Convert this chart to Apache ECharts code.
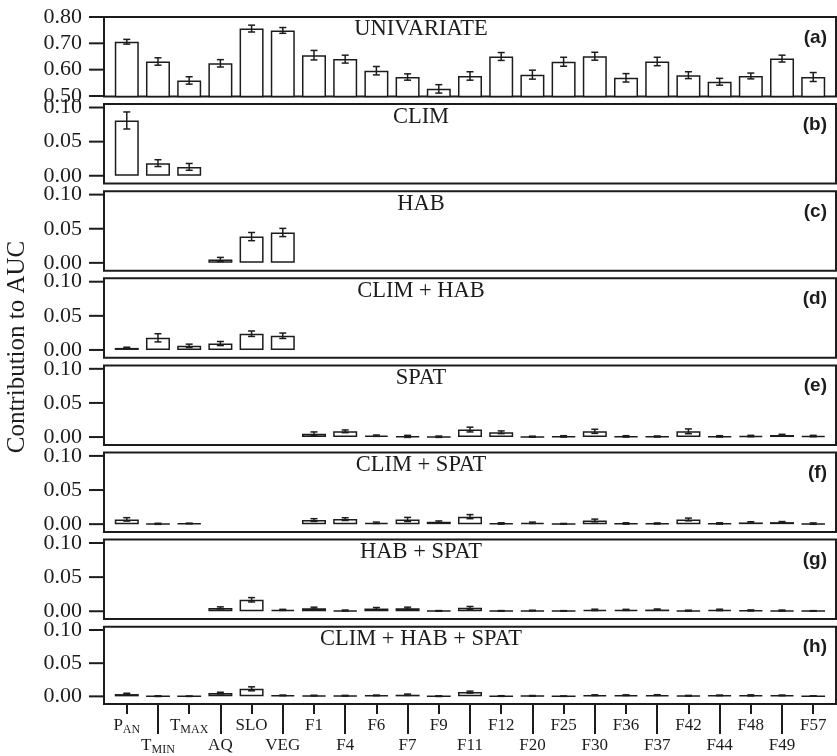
<!DOCTYPE html>
<html>
<head>
<meta charset="utf-8">
<script src="https://cdn.jsdelivr.net/npm/echarts@6/dist/echarts.min.js"></script>
<style>
  html, body { margin: 0; padding: 0; background: #ffffff; }
  #chart { width: 837px; height: 756px; }
</style>
</head>
<body>
<div id="chart"></div>
<script>
// Predictor names (underscore marks a subscript)
const categories = ['P_AN', 'T_MIN', 'T_MAX', 'AQ', 'SLO', 'VEG', 'F1', 'F4', 'F6', 'F7', 'F9',
  'F11', 'F12', 'F20', 'F25', 'F30', 'F36', 'F37', 'F42', 'F44', 'F48', 'F49', 'F57'];

const panelTitles = ['UNIVARIATE', 'CLIM', 'HAB', 'CLIM + HAB', 'SPAT', 'CLIM + SPAT', 'HAB + SPAT', 'CLIM + HAB + SPAT'];
const panelTags = ['(a)', '(b)', '(c)', '(d)', '(e)', '(f)', '(g)', '(h)'];

const univariateTicks = [0.5, 0.6, 0.7, 0.8];
const contributionTicks = [0, 0.05, 0.1];

// (a) univariate AUC
const univariate = [0.706, 0.631, 0.559, 0.624, 0.756, 0.749, 0.655, 0.640, 0.596, 0.572, 0.527,
  0.576, 0.650, 0.581, 0.630, 0.651, 0.569, 0.631, 0.579, 0.554, 0.576, 0.642, 0.572];
const univariateErr = [0.009, 0.014, 0.014, 0.014, 0.013, 0.011, 0.018, 0.015, 0.016, 0.012, 0.016,
  0.016, 0.015, 0.017, 0.017, 0.015, 0.016, 0.016, 0.013, 0.013, 0.011, 0.013, 0.017];

// (b) CLIM
const clim = [0.081, 0.0185, 0.013, null, null, null, null, null, null, null, null,
  null, null, null, null, null, null, null, null, null, null, null, null];
const climErr = [0.0125, 0.005, 0.005, null, null, null, null, null, null, null, null,
  null, null, null, null, null, null, null, null, null, null, null, null];

// (c) HAB
const hab = [null, null, null, 0.005, 0.0385, 0.0445, null, null, null, null, null,
  null, null, null, null, null, null, null, null, null, null, null, null];
const habErr = [null, null, null, 0.003, 0.006, 0.006, null, null, null, null, null,
  null, null, null, null, null, null, null, null, null, null, null, null];

// (d) CLIM + HAB
const climHab = [0.003, 0.0178, 0.006, 0.0094, 0.0238, 0.0208, null, null, null, null, null,
  null, null, null, null, null, null, null, null, null, null, null, null];
const climHabErr = [0.001, 0.006, 0.0025, 0.003, 0.004, 0.004, null, null, null, null, null,
  null, null, null, null, null, null, null, null, null, null, null, null];

// (e) SPAT
const spat = [null, null, null, null, null, null, 0.005, 0.0084, 0.002, 0.001, 0.0005,
  0.011, 0.007, 0.0005, 0.001, 0.0084, 0.001, 0.0008, 0.0084, 0.001, 0.0015, 0.003, 0.0015];
const spatErr = [null, null, null, null, null, null, 0.0025, 0.002, 0.001, 0.0015, 0.001,
  0.0035, 0.002, 0.0008, 0.001, 0.003, 0.001, 0.0008, 0.0035, 0.001, 0.001, 0.001, 0.001];

// (f) CLIM + SPAT
const climSpat = [0.007, 0.0005, 0.001, null, null, null, 0.006, 0.0074, 0.002, 0.0069, 0.0035,
  0.011, 0.001, 0.002, 0.0005, 0.0054, 0.001, 0.001, 0.0069, 0.001, 0.0025, 0.003, 0.0008];
const climSpatErr = [0.0025, 0.0008, 0.0005, null, null, null, 0.002, 0.002, 0.001, 0.003, 0.0012,
  0.003, 0.001, 0.001, 0.0005, 0.002, 0.001, 0.0008, 0.002, 0.001, 0.001, 0.0008, 0.001];

// (g) HAB + SPAT
const habSpat = [null, null, null, 0.0049, 0.0168, 0.002, 0.0045, 0.001, 0.004, 0.0045, 0.0005,
  0.005, 0.0005, 0.001, 0.0005, 0.002, 0.002, 0.0025, 0.0008, 0.002, 0.0012, 0.001, 0.0005];
const habSpatErr = [null, null, null, 0.0015, 0.0032, 0.0008, 0.0015, 0.0008, 0.0015, 0.0015, 0.0005,
  0.002, 0.0005, 0.0005, 0.0004, 0.001, 0.0008, 0.0008, 0.0008, 0.001, 0.0008, 0.0008, 0.0004];

// (h) CLIM + HAB + SPAT
const climHabSpat = [0.0035, 0.0003, 0.0002, 0.005, 0.0114, 0.0015, 0.0012, 0.001, 0.0015, 0.0025, 0.0003,
  0.0064, 0.0005, 0.0008, 0.0003, 0.0018, 0.0018, 0.002, 0.001, 0.0015, 0.0015, 0.0015, 0.0005];
const climHabSpatErr = [0.0012, 0.0005, 0.0003, 0.0012, 0.003, 0.0005, 0.0005, 0.0005, 0.0005, 0.001, 0.0005,
  0.0015, 0.0005, 0.0005, 0.0003, 0.0005, 0.0005, 0.0005, 0.0005, 0.0005, 0.0008, 0.0005, 0.0003];

const panelValues = [univariate, clim, hab, climHab, spat, climSpat, habSpat, climHabSpat];
const panelErrors = [univariateErr, climErr, habErr, climHabErr, spatErr, climSpatErr, habSpatErr, climHabSpatErr];

// ---- layout & style ----
const SERIF = 'Liberation Serif, Times New Roman, serif';
const SANS = 'Liberation Sans, Arial, sans-serif';
const INK = '#1c1c1c';
const PANEL_TOP = 17, PANEL_STEP = 87.1, PANEL_H = 79.5;
const GRID_LEFT = 104, GRID_W = 732;
const TICK_LEN = 15;
// x positions: category i sits at i + PAD, so the value axis starts at 0 on the frame edge
const PAD = 0.73;
const X_MIN = 0, X_MAX = categories.length - 1 + 2 * PAD;
const catIndex = v => Math.round(v - PAD);

function catLabel(name) {
  const m = name.match(/^(\w+)_(\w+)$/);
  return m ? '{m|' + m[1] + '}{s|' + m[2] + '}' : '{m|' + name + '}';
}
const labelRich = {
  m: { fontFamily: SERIF, fontSize: 17, color: INK, lineHeight: 21 },
  s: { fontFamily: SERIF, fontSize: 12, color: INK, lineHeight: 12, padding: [9, 0, 0, 0] }
};
// y labels carry their own outward tick dash so it sits flush against the frame
const yLabelRich = {
  v: { fontFamily: SERIF, fontSize: 22, color: INK, padding: [0, 7, 0, 0] },
  t: { width: TICK_LEN, height: 2, fontSize: 2, lineHeight: 2, backgroundColor: INK }
};

const grid = [], xAxis = [], yAxis = [], series = [], graphic = [];
const evenPos = categories.map((c, i) => i).filter(i => i % 2 === 0).map(i => i + PAD);
const oddPos = categories.map((c, i) => i).filter(i => i % 2 === 1).map(i => i + PAD);
const panelTicks = panelValues.map((v, p) => (p === 0 ? univariateTicks : contributionTicks));

panelValues.forEach((vals, p) => {
  const top = PANEL_TOP + p * PANEL_STEP;
  grid.push({
    left: GRID_LEFT, top: top, width: GRID_W, height: PANEL_H,
    show: true, borderColor: INK, borderWidth: 2, backgroundColor: 'transparent'
  });
  const isLast = p === panelValues.length - 1;
  xAxis.push({
    type: 'value', gridIndex: p, min: X_MIN, max: X_MAX, show: isLast, position: 'bottom',
    axisLine: { show: false, onZero: false }, splitLine: { show: false },
    axisTick: { show: isLast, customValues: evenPos, length: 10, lineStyle: { color: INK, width: 2 } },
    axisLabel: {
      show: isLast, customValues: evenPos, margin: 11,
      formatter: v => catLabel(categories[catIndex(v)]), rich: labelRich
    }
  });
  const ticks = panelTicks[p];
  yAxis.push({
    type: 'value', gridIndex: p,
    min: p === 0 ? 0.498 : -0.0115, max: p === 0 ? 0.80 : 0.105,
    axisLine: { show: false }, splitLine: { show: false },
    axisTick: { show: false },
    axisLabel: {
      customValues: ticks, margin: 0,
      formatter: v => '{v|' + v.toFixed(2) + '}{t| }', rich: yLabelRich
    }
  });

  const barData = [], errData = [];
  vals.forEach((v, i) => {
    if (v === null) return;
    barData.push([i + PAD, v]);
    errData.push([i + PAD, v, panelErrors[p][i]]);
  });
  series.push({
    type: 'bar', xAxisIndex: p, yAxisIndex: p, data: barData, barWidth: 24,
    itemStyle: { color: '#ffffff', borderColor: INK, borderWidth: 1.5 },
    silent: true, animation: false
  });
  series.push({
    type: 'custom', xAxisIndex: p, yAxisIndex: p, data: errData, z: 5,
    encode: { x: 0, y: 1 }, silent: true, animation: false,
    renderItem: (params, api) => {
      const x = api.value(0), v = api.value(1), e = api.value(2);
      const lo = api.coord([x, v - e]);
      const hi = api.coord([x, v + e]);
      const cap = 3.5;
      const st = { stroke: INK, lineWidth: 1.5 };
      return {
        type: 'group', children: [
          { type: 'line', shape: { x1: lo[0], y1: lo[1], x2: hi[0], y2: hi[1] }, style: st },
          { type: 'line', shape: { x1: lo[0] - cap, y1: lo[1], x2: lo[0] + cap, y2: lo[1] }, style: st },
          { type: 'line', shape: { x1: hi[0] - cap, y1: hi[1], x2: hi[0] + cap, y2: hi[1] }, style: st }
        ]
      };
    }
  });

  graphic.push({
    type: 'text', x: 421, y: top + 12.5, silent: true,
    style: { text: panelTitles[p], align: 'center', verticalAlign: 'middle', textAlign: 'center', textVerticalAlign: 'middle',
      fontFamily: SERIF, fontSize: 22.5, fill: INK }
  });
  graphic.push({
    type: 'text', x: 827, y: top + 20.5, silent: true,
    style: { text: panelTags[p], align: 'right', verticalAlign: 'middle', textAlign: 'right', textVerticalAlign: 'middle',
      fontFamily: SANS, fontWeight: 'bold', fontSize: 19, fill: INK }
  });
});

// second bottom axis: odd-index labels on a lower row with longer ticks
const lastGrid = panelValues.length - 1;
xAxis.push({
  type: 'value', gridIndex: lastGrid, min: X_MIN, max: X_MAX, position: 'bottom',
  axisLine: { show: false, onZero: false }, splitLine: { show: false },
  axisTick: { show: true, customValues: oddPos, length: 30, lineStyle: { color: INK, width: 2 } },
  axisLabel: {
    customValues: oddPos, margin: 31,
    formatter: v => catLabel(categories[catIndex(v)]), rich: labelRich
  }
});

graphic.push({
  type: 'text', x: 17, y: 347, rotation: Math.PI / 2, silent: true,
  style: { text: 'Contribution to AUC', align: 'center', verticalAlign: 'middle', textAlign: 'center', textVerticalAlign: 'middle',
    fontFamily: SERIF, fontSize: 25, fill: INK }
});

const chart = echarts.init(document.getElementById('chart'), null, { renderer: 'canvas' });
chart.setOption({
  animation: false,
  backgroundColor: '#ffffff',
  grid, xAxis, yAxis, series, graphic
});
</script>
</body>
</html>
